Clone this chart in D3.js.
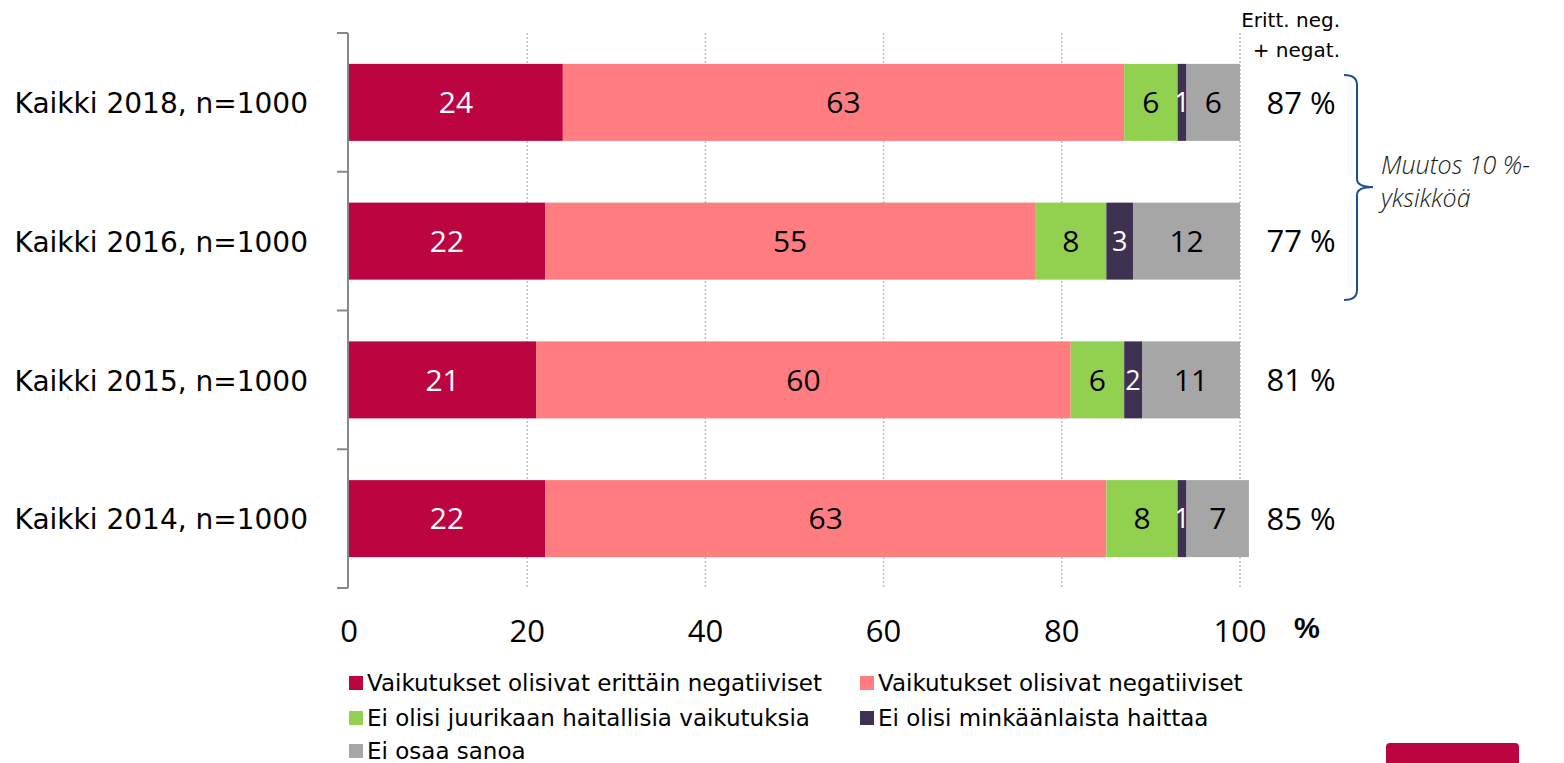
<!DOCTYPE html>
<html>
<head>
<meta charset="utf-8">
<script src="https://cdn.jsdelivr.net/npm/d3@7"></script>
<style>
  body { margin: 0; background: #fff; }
  svg { font-family: Tahoma, "DejaVu Sans", sans-serif; }
</style>
</head>
<body>
<svg id="vis" width="1564" height="763"></svg>
<script>
const categories = ['Kaikki 2018, n=1000', 'Kaikki 2016, n=1000', 'Kaikki 2015, n=1000', 'Kaikki 2014, n=1000']
const seriesNames = [
  'Vaikutukset olisivat erittäin negatiiviset',
  'Vaikutukset olisivat negatiiviset',
  'Ei olisi juurikaan haitallisia vaikutuksia',
  'Ei olisi minkäänlaista haittaa',
  'Ei osaa sanoa'
]
const veryNeg = [24, 22, 21, 22]
const neg = [63, 55, 60, 63]
const hardlyHarm = [6, 8, 6, 8]
const noHarm = [1, 3, 2, 1]
const dontKnow = [6, 12, 11, 7]
const totals = ['87 %', '77 %', '81 %', '85 %']
const xTicks = [0, 20, 40, 60, 80, 100]

const colors = ['#bc0441', '#ff7c80', '#92d050', '#3f3151', '#a6a6a6']
const labelColors = ['#fff', '#000', '#000', '#fff', '#000']
const segoe = '"Open Sans", "Noto Sans", sans-serif'

const svg = d3.select('#vis')

const x = d3.scaleLinear().domain([0, 100]).range([349, 1240])
const y = d3.scaleBand().domain(categories).range([33, 588]).paddingInner(0.445).paddingOuter(0.2225)

// rows for the stack
const rows = categories.map((c, i) => ({
  cat: c,
  s0: veryNeg[i], s1: neg[i], s2: hardlyHarm[i], s3: noHarm[i], s4: dontKnow[i]
}))
const stack = d3.stack().keys(['s0', 's1', 's2', 's3', 's4'])(rows)

// gridlines
svg.append('g')
  .selectAll('line')
  .data(xTicks.slice(1))
  .join('line')
  .attr('x1', d => x(d)).attr('x2', d => x(d))
  .attr('y1', 33).attr('y2', 588)
  .attr('stroke', '#bfbfbf')
  .attr('stroke-width', 1.5)
  .attr('stroke-dasharray', '2,2')

// y axis
const yAxis = svg.append('g')
yAxis.append('line')
  .attr('x1', 348).attr('x2', 348).attr('y1', 33).attr('y2', 588)
  .attr('stroke', '#888').attr('stroke-width', 2)
const bounds = [33].concat(categories.map(c => y(c) + y.bandwidth() + y.step() * y.paddingInner() / 2))
bounds[bounds.length - 1] = 588
yAxis.selectAll('.tk')
  .data(bounds)
  .join('line')
  .attr('x1', 337).attr('x2', 348)
  .attr('y1', d => d).attr('y2', d => d)
  .attr('stroke', '#888').attr('stroke-width', 2)

yAxis.selectAll('text')
  .data(categories)
  .join('text')
  .attr('x', 308)
  .attr('y', d => y(d) + y.bandwidth() / 2)
  .attr('dy', '0.38em')
  .attr('text-anchor', 'end')
  .attr('font-size', 28)
  .attr('fill', '#000')
  .text(d => d)

// bars
const layer = svg.append('g')
  .selectAll('g')
  .data(stack)
  .join('g')
  .attr('fill', (d, i) => colors[i])

layer.selectAll('rect')
  .data(d => d)
  .join('rect')
  .attr('x', d => x(d[0]))
  .attr('y', d => y(d.data.cat))
  .attr('width', d => x(d[1]) - x(d[0]))
  .attr('height', y.bandwidth())

layer.each(function (s, i) {
  d3.select(this).selectAll('text')
    .data(s)
    .join('text')
    .attr('x', d => (x(d[0]) + x(d[1])) / 2)
    .attr('y', d => y(d.data.cat) + y.bandwidth() / 2)
    .attr('dy', '0.36em')
    .attr('text-anchor', 'middle')
    .attr('font-family', segoe)
    .attr('font-size', i === 3 ? 27 : 30)
    .attr('fill', labelColors[i])
    .text(d => d[1] - d[0])
})

// x axis tick labels
svg.append('g')
  .selectAll('text')
  .data(xTicks)
  .join('text')
  .attr('x', d => x(d))
  .attr('y', 642)
  .attr('text-anchor', 'middle')
  .attr('font-size', 31)
  .attr('font-family', segoe)
  .text(d => d)

svg.append('text')
  .attr('x', 1307).attr('y', 638)
  .attr('text-anchor', 'middle')
  .attr('font-size', 29)
  .attr('font-weight', 'bold')
  .attr('font-family', '"Liberation Sans", Arial, sans-serif')
  .text('%')

// totals column
svg.append('g')
  .selectAll('text')
  .data(totals)
  .join('text')
  .attr('x', 1301)
  .attr('y', (d, i) => y(categories[i]) + y.bandwidth() / 2)
  .attr('dy', '0.36em')
  .attr('text-anchor', 'middle')
  .attr('font-family', segoe)
  .attr('font-size', 31)
  .text(d => d)

svg.append('text')
  .attr('x', 1340).attr('y', 27)
  .attr('text-anchor', 'end')
  .attr('font-size', 20)
  .text('Eritt. neg.')
svg.append('text')
  .attr('x', 1340).attr('y', 57)
  .attr('text-anchor', 'end')
  .attr('font-size', 20)
  .text('+ negat.')

// brace
const by0 = 75, by1 = 300, bm = 187
svg.append('path')
  .attr('d', `M1344,${by0} Q1357,${by0} 1357,${by0 + 10} L1357,${bm - 8} Q1357,${bm} 1373,${bm} Q1357,${bm} 1357,${bm + 8} L1357,${by1 - 10} Q1357,${by1} 1344,${by1}`)
  .attr('fill', 'none')
  .attr('stroke', '#1f4e99')
  .attr('stroke-width', 2)

svg.append('text')
  .attr('x', 1381).attr('y', 174)
  .attr('font-size', 25)
  .attr('font-style', 'italic')
  .attr('font-weight', 300)
  .attr('font-family', segoe)
  .attr('fill', '#1a1a1a')
  .text('Muutos 10 %-')
svg.append('text')
  .attr('x', 1381).attr('y', 207)
  .attr('font-size', 25)
  .attr('font-style', 'italic')
  .attr('font-weight', 300)
  .attr('font-family', segoe)
  .attr('fill', '#1a1a1a')
  .text('yksikköä')

// legend
const legendPos = [[349, 683], [860, 683], [349, 718], [860, 718], [349, 751]]
const legend = svg.append('g')
  .selectAll('g')
  .data(seriesNames)
  .join('g')
  .attr('transform', (d, i) => `translate(${legendPos[i][0]},${legendPos[i][1]})`)
legend.append('rect')
  .attr('x', 0).attr('y', -7)
  .attr('width', 14).attr('height', 14)
  .attr('fill', (d, i) => colors[i])
legend.append('text')
  .attr('x', 18)
  .attr('dy', '0.36em')
  .attr('font-size', 23)
  .text(d => d)

// logo stub at bottom right
svg.append('rect')
  .attr('x', 1386).attr('y', 743)
  .attr('width', 133).attr('height', 40)
  .attr('rx', 4)
  .attr('fill', '#bc0441')
</script>
</body>
</html>
